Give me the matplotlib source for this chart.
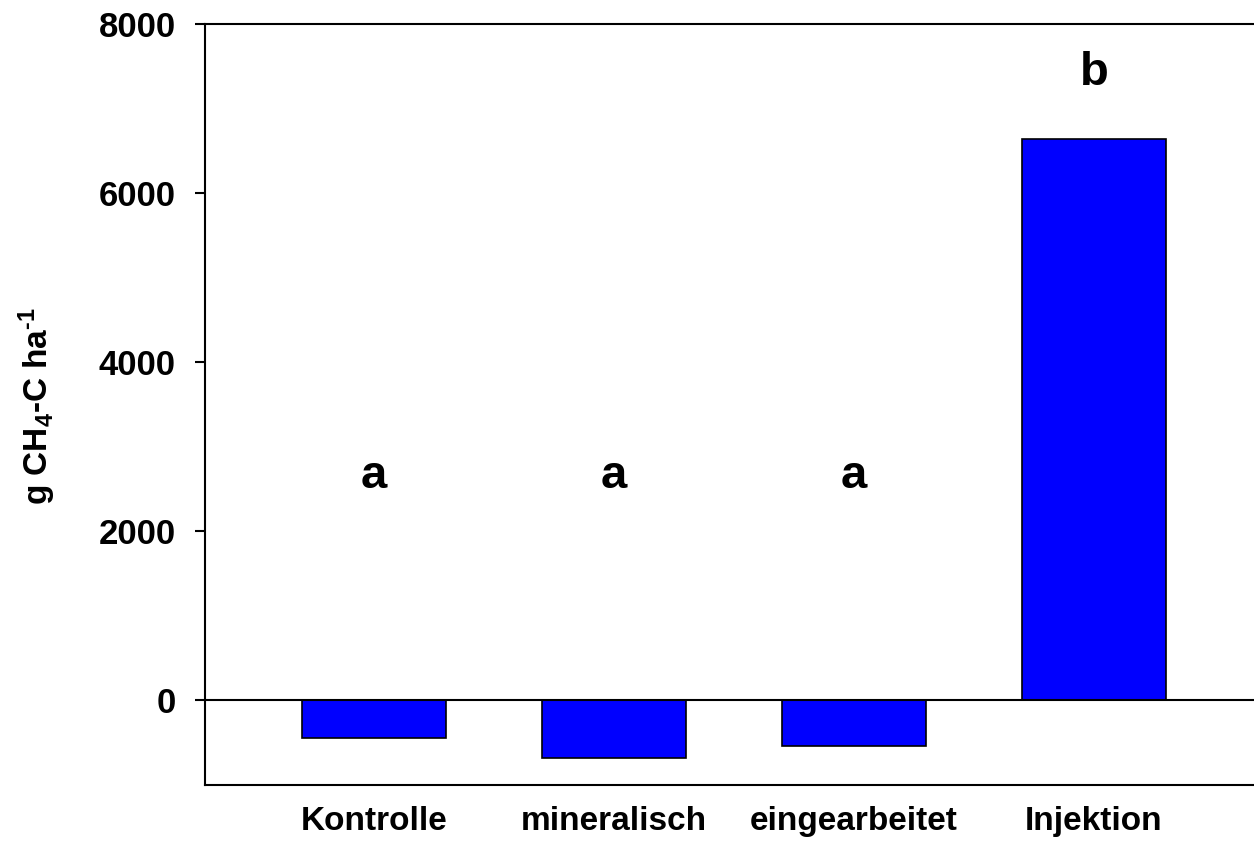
import matplotlib
matplotlib.use("Agg")
import matplotlib.pyplot as plt

# treatments and CH4-C values (g ha-1)
categories = ["Kontrolle", "mineralisch", "eingearbeitet", "Injektion"]
values = [-445, -680, -540, 6643]
letters = ["a", "a", "a", "b"]
letter_y = [2515, 2515, 2515, 7280]
y_ticks = [0, 2000, 4000, 6000, 8000]

plt.rcParams["font.family"] = ["Liberation Sans", "DejaVu Sans"]
plt.rcParams["font.weight"] = "bold"
plt.rcParams["mathtext.fontset"] = "custom"
plt.rcParams["mathtext.rm"] = "Liberation Sans:bold"
plt.rcParams["mathtext.it"] = "Liberation Sans:bold"
plt.rcParams["mathtext.bf"] = "Liberation Sans:bold"
plt.rcParams["mathtext.default"] = "rm"

fig = plt.figure(figsize=(12.54, 8.42), dpi=100)
ax = fig.add_axes([205 / 1254, 1 - 785 / 842, 1 - 205 / 1254, (785 - 24) / 842])

x = list(range(len(categories)))
ax.bar(x, values, width=0.6, color="#0000FF", edgecolor="black", linewidth=1.2, zorder=2)
ax.axhline(0, color="black", linewidth=1.5, zorder=3)

for xi, lab, ly in zip(x, letters, letter_y):
    ax.text(xi, ly, lab, ha="center", va="baseline", fontsize=34, fontweight="bold")

ax.set_xlim(-0.704, 3.667)
ax.set_ylim(-1000, 8000)
ax.set_yticks(y_ticks)
ax.set_xticks(x)
ax.set_xticklabels(categories)

ax.tick_params(axis="y", length=7, width=1.5, pad=14, labelsize=25)
ax.tick_params(axis="x", length=0, pad=15, labelsize=24)
for lbl in ax.get_xticklabels() + ax.get_yticklabels():
    lbl.set_fontweight("bold")

ax.spines["right"].set_visible(False)
for s in ["left", "top", "bottom"]:
    ax.spines[s].set_linewidth(1.5)

ax.set_ylabel(r"g CH$_{\mathbf{4}}$-C ha$^{\text{-}1}$", fontsize=24, fontweight="bold")
ax.yaxis.set_label_coords(-(205 - 58) / 1049, (785 - 406) / 761)

fig.savefig("out.png", dpi=100)
